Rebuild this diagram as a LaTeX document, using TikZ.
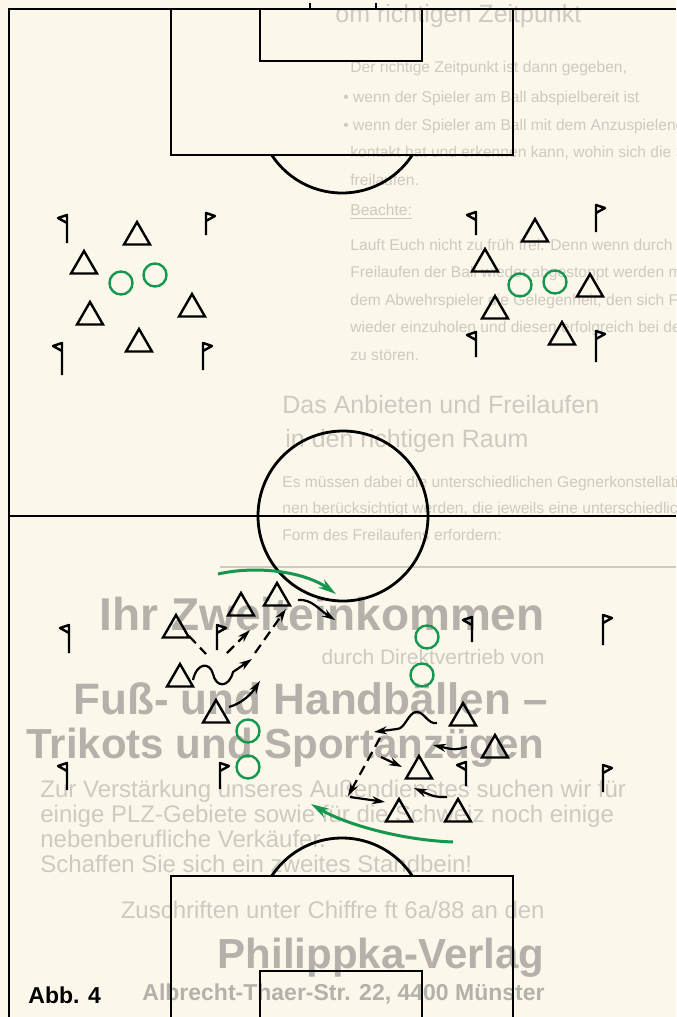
\documentclass[tikz,border=0pt]{standalone}
\usepackage{fontspec}
\setmainfont{Liberation Sans}
\usetikzlibrary{shapes.geometric,arrows.meta}

\definecolor{paper}{RGB}{251,247,234}
\definecolor{ghost}{RGB}{206,202,194}
\definecolor{ghostdark}{RGB}{180,176,170}
\definecolor{ballgreen}{RGB}{22,150,78}

\tikzset{
  pitch/.style={line width=1.4pt},
  player/.style={draw, line width=1.2pt, regular polygon, regular polygon sides=3,
    minimum size=15pt, inner sep=0pt},
  ball/.style={draw=ballgreen, line width=1.2pt, circle, minimum size=11.5pt, inner sep=0pt},
  flag/.style={line width=1.2pt, line join=round},
  run/.style={line width=1.1pt, -{Stealth[length=6.5pt,width=4pt]}},
  pass/.style={run, dash pattern=on 5pt off 3pt},
  greenrun/.style={draw=ballgreen, line width=1.5pt, -{Stealth[length=9pt,width=5pt]}},
  ghostbody/.style={text=ghost, inner sep=0pt, anchor=base west, font=\fontsize{7.8}{9}\selectfont},
  ghosthead/.style={ghostbody, font=\fontsize{12.5}{13}\selectfont},
  ghostbig/.style={text=ghostdark, inner sep=0pt, anchor=base east, font=\bfseries\fontsize{23}{24}\selectfont},
  ghostad/.style={text=ghost, inner sep=0pt, font=\fontsize{12}{13}\selectfont},
}

% corner flags: x, top of pole, foot of pole
\newcommand{\flagleft}[3]{\draw[flag] (#1,#3) -- (#1,#2) -- (#1-9,#2+3) -- (#1,#2+8);}
\newcommand{\flagright}[3]{\draw[flag] (#1,#3) -- (#1,#2) -- (#1+9,#2+3) -- (#1,#2+8);}

\begin{document}
\begin{tikzpicture}[x=0.5pt,y=-0.5pt]
% Paper
\fill[paper] (0,0) rectangle (676,1017);
\useasboundingbox (0,0) rectangle (676,1017);
\clip (0,0) rectangle (676,1017);

% Text showing through from the back of the page
\node[ghosthead] (g0) at (335,22) {om richtigen Zeitpunkt};
\node[ghostbody] (g1) at (350,72) {Der richtige Zeitpunkt ist dann gegeben,};
\node[ghostbody] (g2) at (343,102) {\textbullet\ wenn der Spieler am Ball abspielbereit ist};
\node[ghostbody] (g3) at (343,130) {\textbullet\ wenn der Spieler am Ball mit dem Anzuspielenden Blick-};
\node[ghostbody] (g4) at (350,157) {kontakt hat und erkennen kann, wohin sich die Spielpartner};
\node[ghostbody] (g5) at (350,185) {freilaufen.};
\node[ghostbody] (g6) at (350,215) {\underline{Beachte:}};
\node[ghostbody] (g7) at (350,250) {Lauft Euch nicht zu früh frei. Denn wenn durch ein zu frühes};
\node[ghostbody] (g8) at (350,277) {Freilaufen der Ball wieder abgestoppt werden muß, gibt man};
\node[ghostbody] (g9) at (350,305) {dem Abwehrspieler die Gelegenheit, den sich Freilaufenden};
\node[ghostbody] (g10) at (350,332) {wieder einzuholen und diesen erfolgreich bei der Ballkontrolle};
\node[ghostbody] (g11) at (350,360) {zu stören.};
\node[ghosthead] (g12) at (282,413) {Das Anbieten und Freilaufen};
\node[ghosthead] (g13) at (285,447) {in den richtigen Raum};
\node[ghostbody] (g14) at (282,487) {Es müssen dabei die unterschiedlichen Gegnerkonstellatio-};
\node[ghostbody] (g15) at (282,513) {nen berücksichtigt werden, die jeweils eine unterschiedliche};
\node[ghostbody] (g16) at (282,540) {Form des Freilaufens erfordern:};
\draw[ghost, line width=0.8pt] (220,567) -- (676,567);
\node[ghostbig] (ad1) at (545,630) {Ihr Zweiteinkommen};
\node[ghostad, anchor=base east, font=\fontsize{10.5}{12}\selectfont] (ad2) at (545,664) {durch Direktvertrieb von};
\node[ghostbig, font=\bfseries\fontsize{22}{24}\selectfont] (ad3) at (548,714) {Fuß- und Handbällen –};
\node[ghostbig, font=\bfseries\fontsize{21}{24}\selectfont] (ad4) at (545,758) {Trikots und Sportanzügen};
\node[ghostad, anchor=base west] (ad5) at (40,797) {Zur Verstärkung unseres Außendienstes suchen wir für};
\node[ghostad, anchor=base west] (ad6) at (40,822) {einige PLZ-Gebiete sowie für die Schweiz noch einige};
\node[ghostad, anchor=base west] (ad7) at (40,847) {nebenberufliche Verkäufer.};
\node[ghostad, anchor=base west] (ad8) at (40,872) {Schaffen Sie sich ein zweites Standbein!};
\node[ghostad, anchor=base east] (ad9) at (545,918) {Zuschriften unter Chiffre ft 6a/88 an den};
\node[ghostbig, font=\bfseries\fontsize{21}{22}\selectfont] (ad10) at (545,968) {Philippka-Verlag};
\node[ghostad, anchor=base east, font=\bfseries\fontsize{11.5}{12}\selectfont, text=ghostdark] (ad11) at (545,1000) {Albrecht-Thaer-Str. 22, 4400 Münster};

% Pitch: goal line, touch line, halfway line
\draw[pitch] (676,9) -- (9,9) -- (9,1017);
\draw[pitch] (9,516) -- (676,516);
\draw[line width=0.6pt] (310,9) -- (310,3) (376,9) -- (376,3);
% Upper penalty and goal area
\draw[pitch] (171,9) -- (171,155) -- (513,155) -- (513,9);
\draw[pitch] (260,9) -- (260,61) -- (422,61) -- (422,9);
\begin{scope}
  \clip (0,155) rectangle (676,300);
  \draw[pitch] (342,109) circle [radius=42pt];
\end{scope}
% Centre circle
\draw[pitch] (343,516) circle [radius=42.5pt];
% Lower penalty and goal area
\draw[pitch] (171,1030) -- (171,876) -- (513,876) -- (513,1030);
\draw[pitch] (260,1030) -- (260,971) -- (422,971) -- (422,1030);
\begin{scope}
  \clip (0,700) rectangle (676,876);
  \draw[pitch] (342,922) circle [radius=42pt];
\end{scope}

% Flags
\flagleft{67}{215}{243} \flagright{206}{213}{235}
\flagleft{62}{343}{375} \flagright{203}{343}{370}
\flagleft{476}{212}{235} \flagright{596}{205}{232}
\flagleft{476}{332}{357} \flagright{596}{331}{362}
\flagleft{69}{625}{653} \flagright{217}{625}{650}
\flagleft{472}{617}{642} \flagright{603}{615}{645}
\flagleft{67}{763}{790} \flagright{220}{763}{789}
\flagleft{466}{762}{786} \flagright{603}{765}{792}

% Players, upper half
\node[player] (t1) at (137,237) {};
\node[player] (t2) at (84,266) {};
\node[player] (t3) at (90,317) {};
\node[player] (t4) at (192,309) {};
\node[player] (t5) at (139,344) {};
\node[player] (t6) at (535,234) {};
\node[player] (t7) at (485,264) {};
\node[player] (t8) at (590,289) {};
\node[player] (t9) at (495,311) {};
\node[player] (t10) at (562,337) {};
\node[ball] (b1) at (121,283) {};
\node[ball] (b2) at (155,275) {};
\node[ball] (b3) at (520,285) {};
\node[ball] (b4) at (555,282) {};

% Players, lower half
\node[player] (u1) at (176,630) {};
\node[player] (u2) at (241,608) {};
\node[player] (u3) at (277,598) {};
\node[player] (u4) at (180,679) {};
\node[player] (u5) at (216,715) {};
\node[player] (u6) at (463,718) {};
\node[player] (u7) at (495,750) {};
\node[player] (u8) at (419,771) {};
\node[player] (u9) at (399,814) {};
\node[player] (u10) at (458,814) {};
\node[ball] (b5) at (427,637) {};
\node[ball] (b6) at (422,675) {};
\node[ball] (b7) at (248,731) {};
\node[ball] (b8) at (248,767) {};

% Runs and passes, left group
\coordinate (a1s) at (189,636); \coordinate (a1e) at (206,654);
\coordinate (a2s) at (227,653); \coordinate (a2e) at (250,630);
\coordinate (a3s) at (255,653); \coordinate (a3e) at (286,609);
\coordinate (a4s) at (193,680); \coordinate (a4e) at (252,659);
\coordinate (a5s) at (229,707); \coordinate (a5e) at (260,681);
\coordinate (a6s) at (298,600); \coordinate (a6e) at (335,620);
\coordinate (g1s) at (218,574); \coordinate (g1e) at (336,594);
\draw[pass, -] (a1s) -- (a1e);
\draw[pass] (a2s) -- (a2e);
\draw[pass] (a3s) -- (a3e);
\draw[run] (a4s) .. controls (197,662) and (210,662) .. (213,674)
  .. controls (216,688) and (229,688) .. (233,672) -- (a4e);
\draw[run] (a5s) .. controls (243,703) and (252,693) .. (a5e);
\draw[run] (a6s) .. controls (312,599) and (318,609) .. (a6e);
\draw[greenrun] (g1s) .. controls (258,565) and (305,572) .. (g1e);

% Runs and passes, right group
\coordinate (c1s) at (437,723); \coordinate (c1e) at (374,732);
\coordinate (c2s) at (467,747); \coordinate (c2e) at (433,745);
\coordinate (c3s) at (380,738); \coordinate (c3e) at (348,796);
\coordinate (c4s) at (381,757); \coordinate (c4e) at (402,767);
\coordinate (c5s) at (447,797); \coordinate (c5e) at (414,788);
\coordinate (c6s) at (350,797); \coordinate (c6e) at (385,802);
\coordinate (g2s) at (453,842); \coordinate (g2e) at (311,804);
\draw[run] (c1s) .. controls (428,725) and (424,711) .. (416,712)
  .. controls (408,713) and (405,729) .. (397,729) -- (c1e);
\draw[run] (c2s) .. controls (455,750) .. (c2e);
\draw[pass] (c3s) -- (c3e);
\draw[run] (c4s) -- (c4e);
\draw[run] (c5s) .. controls (435,797) .. (c5e);
\draw[run] (c6s) -- (c6e);
\draw[greenrun] (g2s) .. controls (400,840) and (345,824) .. (g2e);

% Caption
\node[anchor=base west, inner sep=0pt, font=\bfseries\fontsize{11.5}{12}\selectfont] (abb) at (28,1003) {Abb. 4};
\end{tikzpicture}
\end{document}
